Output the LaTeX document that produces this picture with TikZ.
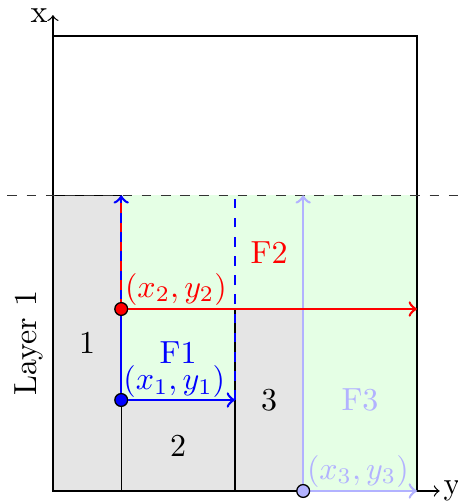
\documentclass[tikz,border=0pt]{standalone}
\usetikzlibrary{positioning}
\tikzset{
  region/.style={draw=black, fill=gray!20},
  pt/.style={circle, draw=black, inner sep=0pt, minimum size=4pt},
}
\begin{document}
\begin{tikzpicture}
  \useasboundingbox (-0.582,-0.11) rectangle (4.451,5.396);

  % Free space and occupied regions
  \fill[green!10] (0.75,0) rectangle (4,3.25);
  \draw[region] (0,0) rectangle (0.75,3.25);
  \draw[region] (0.75,0) rectangle (2,1);
  \draw[region] (2,0) rectangle (2.75,2);
  \node at (0.375,1.625) {1};
  \node at (1.375,0.5) {2};
  \node at (2.375,1) {3};

  % Axes and bin
  \coordinate (o) at (0,0);
  \coordinate (xend) at (0,5.23);
  \coordinate (yend) at (4.25,0);
  \draw (0,0) rectangle (4,5);
  \draw[->] (o) -- (xend) node[left, inner sep=1.5pt] {x};
  \draw[->] (o) -- (yend) node[right, inner sep=1pt] {y};
  \coordinate (dl) at (-0.5,3.25);
  \coordinate (dr) at (4.45,3.25);
  \draw[dashed, black!80] (dl) -- (dr);
  \node[rotate=90] at (-0.27,1.625) {Layer 1};

  % Corner points
  \coordinate (p1) at (0.75,1);
  \coordinate (p2) at (0.75,2);
  \coordinate (p3) at (2.75,0);
  \coordinate (t1) at (0.75,3.25);
  \coordinate (r1) at (2,1);
  \coordinate (u1) at (2,3.25);
  \coordinate (r2) at (4,2);
  \coordinate (t3) at (2.75,3.25);
  \coordinate (r3) at (4,0);

  % F3
  \draw[thick, blue!30, ->] (p3) -- (t3);
  \draw[thick, blue!30, ->] (p3) -- (r3);
  \node[blue!30] at (3.375,1) {F3};
  \node[blue!30, above right, inner sep=1pt] at (p3) {$(x_3,y_3)$};

  % F1
  \draw[thick, blue, ->] (p1) -- (t1);
  \draw[thick, blue, ->] (p1) -- (r1);
  \draw[thick, blue, dashed] (r1) -- (u1);
  \node[blue] at (1.375,1.52) {F1};
  \node[blue, above right, inner sep=0.5pt] at (p1) {$(x_1,y_1)$};

  % F2
  \draw[thick, red, ->] (p2) -- (r2);
  \draw[thick, red, dashed] (p2) -- (t1);
  \node[red] at (2.375,2.625) {F2};
  \node[red, above right, inner sep=1pt] at (p2) {$(x_2,y_2)$};

  \node[pt, fill=blue] at (p1) {};
  \node[pt, fill=red] at (p2) {};
  \node[pt, fill=blue!30] at (p3) {};
\end{tikzpicture}
\end{document}
